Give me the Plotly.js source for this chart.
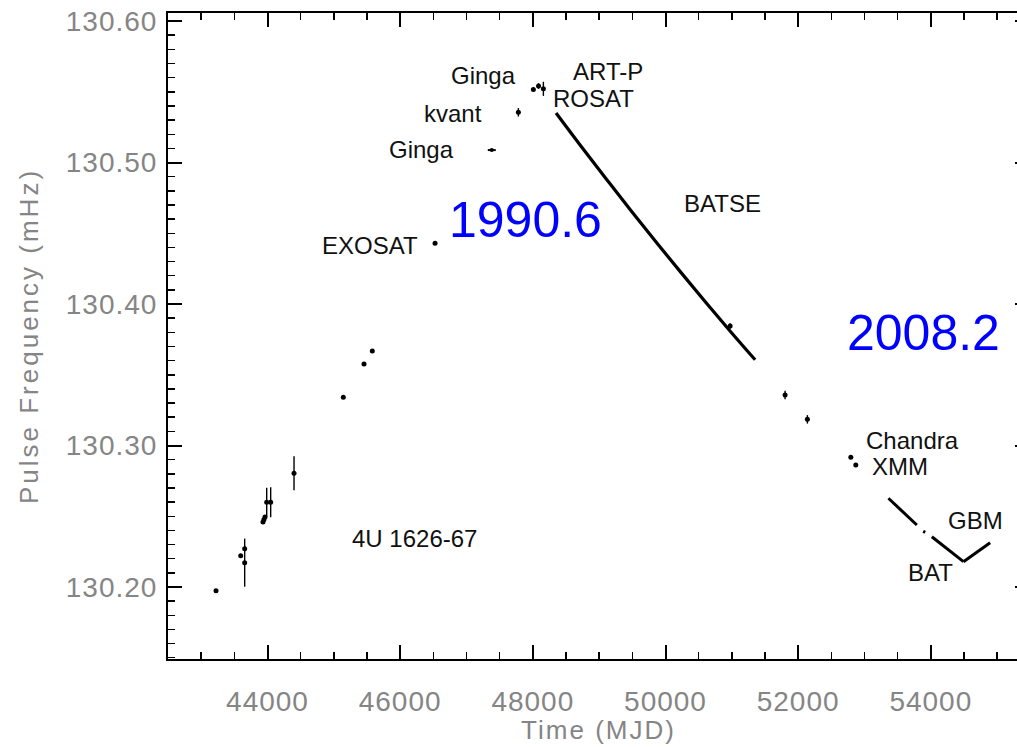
<!DOCTYPE html>
<html><head><meta charset="utf-8">
<script src="https://cdn.plot.ly/plotly-3.0.1.min.js"></script>
<style>html,body{margin:0;padding:0;overflow:hidden;background:#fff}</style>
</head><body><div id="chart" style="width:1030px;height:747px"></div>
<script>
// Individual pulse-frequency measurements (MJD, mHz, 1-sigma error)
const pointMJD  = [43224, 43596, 43656, 43656, 43932, 43947, 43962, 43988, 44048, 44400, 45143, 45455, 45580, 46526, 47782, 48008, 48086, 48159, 50974, 51803, 52139, 52794, 52869];
const pointFreq = [130.1974, 130.2221, 130.2271, 130.2172, 130.2459, 130.2477, 130.2495, 130.2599, 130.2599, 130.2804, 130.3341, 130.3576, 130.3668, 130.4429, 130.5355, 130.5517, 130.5541, 130.5521, 130.3845, 130.3357, 130.3185, 130.2917, 130.2862];
const pointErr  = [0, 0, 0.002, 0.017, 0, 0, 0, 0.0102, 0.0106, 0.012, 0, 0, 0, 0, 0.003, 0, 0.002, 0.005, 0.002, 0.003, 0.003, 0, 0];

// Ginga (lower) measurement with a time span
const gingaMJD  = [47381];
const gingaFreq = [130.5088];
const gingaSpan = [60];

// BATSE continuous monitoring
const batseMJD  = [48350, 48727, 49104, 49481, 49858, 50235, 50612, 50989, 51351];
const batseFreq = [130.5350, 130.5115, 130.4886, 130.4659, 130.4438, 130.4222, 130.4009, 130.3801, 130.3606];

// Swift BAT monitoring (with gaps)
const batMJD  = [53361, 53789, null, 53885, 53915, null, 54015, 54492];
const batFreq = [130.2627, 130.2438, null, 130.2394, 130.2386, null, 130.2355, 130.2179];

// Fermi GBM monitoring
const gbmMJD  = [54492, 54894];
const gbmFreq = [130.2179, 130.2313];

// Text labels
const labelText = ["Ginga", "kvant", "Ginga", "ART-P", "ROSAT", "EXOSAT", "BATSE", "Chandra", "XMM", "GBM", "BAT", "4U 1626-67", "1990.6", "2008.2"];
const labelMJD  = [47249, 46797, 46315, 49127, 48908, 45546, 50853, 53718, 53537, 54668, 53990, 46209, 47883, 53884];
const labelFreq = [130.5615, 130.5350, 130.5092, 130.5643, 130.5456, 130.4417, 130.4714, 130.3032, 130.2855, 130.2473, 130.2099, 130.2346, 130.4594, 130.3792];
const labelBlue = [false, false, false, false, false, false, false, false, false, false, false, false, true, true];

const xTickVals = [44000, 46000, 48000, 50000, 52000, 54000];
const yTickVals = [130.20, 130.30, 130.40, 130.50, 130.60];

const traces = [
  {x: pointMJD, y: pointFreq, type: 'scatter', mode: 'markers',
   marker: {color: '#000', size: 5},
   error_y: {type: 'data', array: pointErr, visible: true, color: '#000', thickness: 1.4, width: 0}},
  {x: gingaMJD, y: gingaFreq, type: 'scatter', mode: 'markers',
   marker: {color: '#000', size: 4},
   error_x: {type: 'data', array: gingaSpan, visible: true, color: '#000', thickness: 2, width: 0}},
  {x: batseMJD, y: batseFreq, type: 'scatter', mode: 'lines', line: {color: '#000', width: 3.2, shape: 'spline'}},
  {x: batMJD, y: batFreq, type: 'scatter', mode: 'lines', line: {color: '#000', width: 3}, connectgaps: false},
  {x: gbmMJD, y: gbmFreq, type: 'scatter', mode: 'lines', line: {color: '#000', width: 3}}
];

const annotations = labelText.map((t, i) => ({
  x: labelMJD[i], y: labelFreq[i], xref: 'x', yref: 'y', text: t, showarrow: false,
  xanchor: 'center', yanchor: 'middle',
  font: labelBlue[i] ? {family: 'Liberation Sans, Arial, sans-serif', size: 50, color: '#0000ff'}
                     : {family: 'Liberation Sans, Arial, sans-serif', size: 24, color: '#111'}
}));

const axisCommon = {
  showgrid: false, zeroline: false, showline: true, linecolor: '#000', linewidth: 2,
  mirror: 'allticks', ticks: 'inside', ticklen: 14, tickwidth: 2, tickcolor: '#000',
  tickfont: {family: 'Liberation Sans, Arial, sans-serif', size: 28, color: '#858585'}
};

const layout = {
  width: 1030, height: 747,
  margin: {l: 168, r: 1, t: 13, b: 88},
  paper_bgcolor: '#fff', plot_bgcolor: '#fff',
  showlegend: false,
  xaxis: Object.assign({}, axisCommon, {
    range: [42500, 55480], tickvals: xTickVals, ticktext: xTickVals.map(String),
    ticklabelstandoff: 16,
    minor: {dtick: 500, tick0: 0, ticks: 'inside', ticklen: 7, tickwidth: 1.5, tickcolor: '#000'},
    title: {text: 'Time (MJD)', standoff: 0, font: {family: 'Liberation Sans, Arial, sans-serif', size: 26, color: '#858585'}}
  }),
  yaxis: Object.assign({}, axisCommon, {
    range: [130.1491, 130.6057], tickvals: yTickVals, ticktext: yTickVals.map(v => v.toFixed(2)),
    ticklabelstandoff: 3,
    minor: {dtick: 0.01, tick0: 130, ticks: 'inside', ticklen: 7, tickwidth: 1.5, tickcolor: '#000'},
    title: {text: 'Pulse Frequency (mHz)', standoff: 26, font: {family: 'Liberation Sans, Arial, sans-serif', size: 26, color: '#858585'}}
  }),
  annotations: annotations
};

Plotly.newPlot('chart', traces, layout, {staticPlot: true, displayModeBar: false}).then(() => {
  document.querySelectorAll('.xtitle').forEach(el => {
    el.style.letterSpacing = '2px';
    el.setAttribute('transform', 'translate(0,-2)');
  });
  document.querySelectorAll('.ytitle').forEach(el => el.style.letterSpacing = '3px');
  document.querySelectorAll('.xtick text, .ytick text').forEach(el => el.style.letterSpacing = '1px');
});
</script></body></html>
